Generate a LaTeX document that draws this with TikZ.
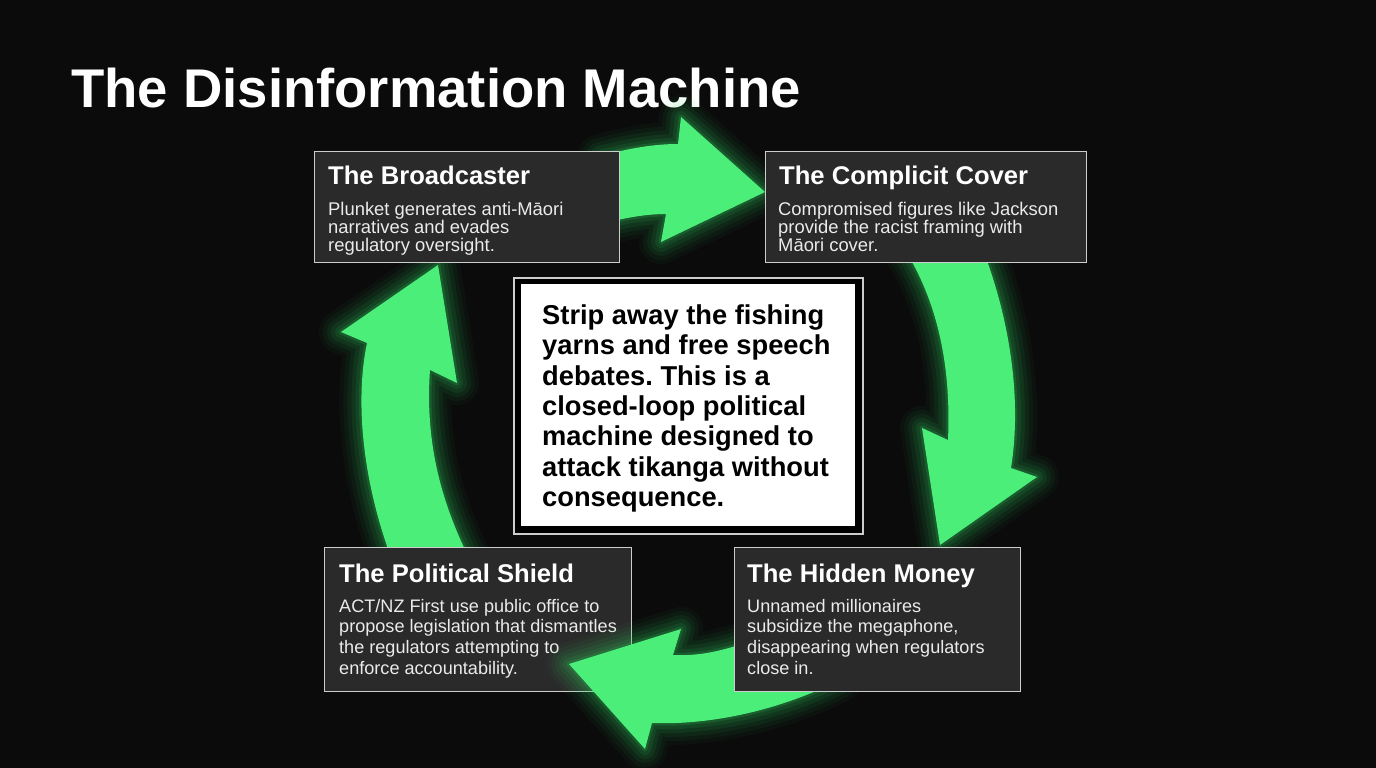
\documentclass[tikz,border=0pt]{standalone}
\usepackage{fontspec}
\setmainfont{Liberation Sans}
\usetikzlibrary{calc}
\setlength{\lineskiplimit}{-30pt}
\frenchspacing
\definecolor{bgc}{RGB}{11,11,11}
\definecolor{boxc}{RGB}{42,42,42}
\definecolor{edgec}{RGB}{205,205,205}
\definecolor{grn}{RGB}{76,238,122}
\definecolor{glowc}{RGB}{50,210,95}
\tikzset{
  panel/.style={draw=edgec, line width=1.3pt, fill=boxc, inner sep=0pt, anchor=north west},
  ptitle/.style={anchor=base west, inner sep=0pt, text=white, font=\bfseries\fontsize{25.6}{28}\selectfont},
  pbody/.style={anchor=base west, inner sep=0pt, text=white!92!black, align=left,
    font=\fontsize{18.4}{18.4}\selectfont},
  pbodylow/.style={pbody, font=\fontsize{18.1}{20.7}\selectfont},
  centertext/.style={anchor=base west, inner sep=0pt, text=black, align=left,
    font=\bfseries\fontsize{27.3}{30.3}\selectfont},
}
\newcommand\glowarrow[1]{%
  \foreach \w/\o in {44/0.04,36/0.05,28/0.065,20/0.085,12/0.11,5/0.16}{%
    \draw[glowc, line width=\w pt, opacity=\o, line join=round] #1;}%
  \fill[grn] #1;}
\begin{document}
\begin{tikzpicture}[x=1pt,y=-1pt]
\useasboundingbox (0,0) rectangle (1376,768);
\fill[bgc] (0,0) rectangle (1376,768);

\node[anchor=base west, inner sep=0pt, text=white, font=\bfseries\fontsize{54.5}{60}\selectfont] (title) at (71,107) {The Disinformation Machine};

% arrows behind the panels
\glowarrow{(600,156) .. controls (630,148) and (655,144) .. (678,144) -- (681,117) -- (765,192) -- (661,242) -- (666,214) .. controls (645,214) and (625,218) .. (600,224) -- cycle}
\glowarrow{(905,250) .. controls (930,290) and (952,350) .. (948,440) -- (922,428) -- (940,545) -- (1037,477) -- (1011,468) .. controls (1022,400) and (1010,320) .. (983,250) -- cycle}
\glowarrow{(470,560) .. controls (440,500) and (425,440) .. (430,370) -- (457,383) -- (438,265) -- (341,332) -- (367,343) .. controls (355,400) and (362,480) .. (392,560) -- cycle}

% panels (multi-line texts are anchored at their last baseline)
\node[panel, minimum width=305pt, minimum height=111pt] (b1) at (314,151) {};
\node[ptitle] (b1t) at ($(b1.north west)+(14,33)$) {The Broadcaster};
\node[pbody] (b1b) at ($(b1.north west)+(14,100.8)$) {Plunket generates anti-Māori\\narratives and evades\\regulatory oversight.};

\node[panel, minimum width=321pt, minimum height=111pt] (b2) at (765,151) {};
\node[ptitle] (b2t) at ($(b2.north west)+(14,33)$) {The Complicit Cover};
\node[pbody] (b2b) at ($(b2.north west)+(13,100.8)$) {Compromised figures like Jackson\\provide the racist framing with\\Māori cover.};

\node[panel, minimum width=307pt, minimum height=144pt] (b3) at (324,547) {};
\node[ptitle] (b3t) at ($(b3.north west)+(15,35)$) {The Political Shield};
\node[pbodylow] (b3b) at ($(b3.north west)+(15,127.1)$) {ACT/NZ First use public office to\\propose legislation that dismantles\\the regulators attempting to\\enforce accountability.};

% bottom arrow: over the shield panel, under the money panel
\glowarrow{(760,638) .. controls (720,652) and (700,656) .. (673,655) -- (681,629) -- (569,664) -- (645,749) -- (652,723) .. controls (700,725) and (770,715) .. (840,680) -- cycle}

\node[panel, minimum width=286pt, minimum height=144pt] (b4) at (734,547) {};
\node[ptitle] (b4t) at ($(b4.north west)+(13,35)$) {The Hidden Money};
\node[pbodylow] (b4b) at ($(b4.north west)+(13,127.1)$) {Unnamed millionaires\\subsidize the megaphone,\\disappearing when regulators\\close in.};

% centre statement
\node[draw=edgec, line width=1.5pt, fill=black, inner sep=0pt, anchor=north west, minimum width=349pt, minimum height=256pt] (c0) at (513,277) {};
\node[fill=white, inner sep=0pt, anchor=north west, minimum width=334pt, minimum height=242pt] (c1) at (521,284) {};
\node[centertext] (ct) at (542,506.3) {Strip away the fishing\\yarns and free speech\\debates. This is a\\closed-loop political\\machine designed to\\attack tikanga without\\consequence.};
\end{tikzpicture}
\end{document}
